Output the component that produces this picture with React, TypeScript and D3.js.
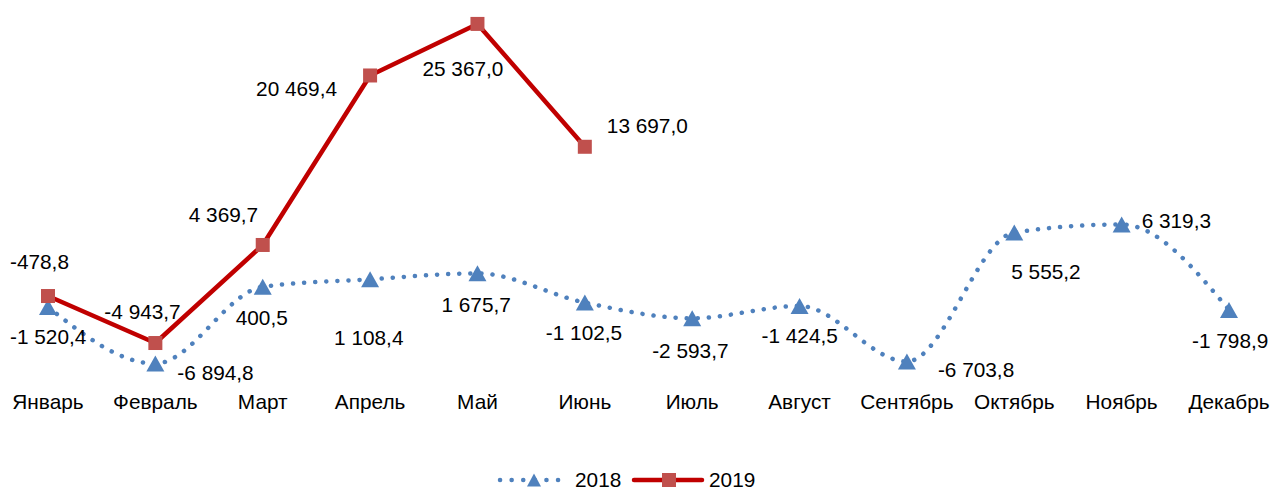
import React from 'react';
import * as d3 from 'd3';

const months = ['Январь', 'Февраль', 'Март', 'Апрель', 'Май', 'Июнь', 'Июль', 'Август', 'Сентябрь', 'Октябрь', 'Ноябрь', 'Декабрь'];
const values2018 = [-1520.4, -6894.8, 400.5, 1108.4, 1675.7, -1102.5, -2593.7, -1424.5, -6703.8, 5555.2, 6319.3, -1798.9];
const values2019 = [-478.8, -4943.7, 4369.7, 20469.4, 25367.0, 13697.0];

// label offsets from the point (text anchor = start, middle baseline)
const labelOffsets2018 = [[-38, 32], [22, 11], [-27, 33], [-36, 60], [-36, 33], [-39, 32], [-40, 34], [-38, 32], [31, 10], [-3, 41], [20, -2], [-37, 33]];
const labelOffsets2019 = [[-38, -33], [-51, -30], [-74, -28], [-114, 15], [-55, 47], [22, -19]];

const fmt = (v: number) => {
  const s = Math.abs(v).toFixed(1).split('.');
  const int = s[0].replace(/\B(?=(\d{3})+(?!\d))/g, ' ');
  return (v < 0 ? '-' : '') + int + ',' + s[1];
};

const App = () => {
  const Width = 1272;
  const Height = 490;
  const font = "'Liberation Sans', Arial, sans-serif";

  const xScale = d3.scalePoint<string>().domain(months).range([48, 1229]);
  const yScale = d3.scaleLinear().domain([-8000, 28000]).range([375.2, -3.8]);

  const line2018 = d3.line<number>()
    .x((d, i) => xScale(months[i]) as number)
    .y((d) => yScale(d))
    .curve(d3.curveMonotoneX);
  const line2019 = d3.line<number>()
    .x((d, i) => xScale(months[i]) as number)
    .y((d) => yScale(d));

  const tri = (cx: number, cy: number, w = 18, h = 16) =>
    `M${cx},${cy - h / 2}L${cx + w / 2},${cy + h / 2}L${cx - w / 2},${cy + h / 2}Z`;

  const blue = '#4F81BD';
  const red = '#C00000';
  const sq = '#C0504D';
  const fs = '20.8px';

  return (
    <svg width={Width} height={Height} style={{ position: 'absolute', left: 0, top: 0 }} fontFamily={font}>
      <rect width={Width} height={Height} fill="#fff" />
      <path d={line2018(values2018) || ''} fill="none" stroke={blue} strokeWidth={4.5} strokeLinecap="round" strokeDasharray="0.1 11" />
      {values2018.map((v, i) => (
        <path key={i} d={tri(xScale(months[i]) as number, yScale(v))} fill={blue} />
      ))}
      <path d={line2019(values2019) || ''} fill="none" stroke={red} strokeWidth={4.5} strokeLinejoin="round" />
      {values2019.map((v, i) => (
        <rect key={i} x={(xScale(months[i]) as number) - 7} y={yScale(v) - 7} width={14} height={14} fill={sq} />
      ))}

      {values2018.map((v, i) => (
        <text key={i} x={(xScale(months[i]) as number) + labelOffsets2018[i][0]} y={yScale(v) + labelOffsets2018[i][1]}
          dominantBaseline="middle" style={{ fontSize: fs }} fill="#000">{fmt(v)}</text>
      ))}
      {values2019.map((v, i) => (
        <text key={i} x={(xScale(months[i]) as number) + labelOffsets2019[i][0]} y={yScale(v) + labelOffsets2019[i][1]}
          dominantBaseline="middle" style={{ fontSize: fs }} fill="#000">{fmt(v)}</text>
      ))}

      {months.map((m) => (
        <text key={m} x={xScale(m)} y={403} textAnchor="middle" dominantBaseline="middle" style={{ fontSize: fs }}>{m}</text>
      ))}

      <g>
        <line x1={500} x2={560} y1={480} y2={480} stroke={blue} strokeWidth={4.5} strokeLinecap="round" strokeDasharray="0.1 11.5" />
        <path d={tri(534, 480, 14, 13)} fill={blue} />
        <text x={575} y={481} dominantBaseline="middle" style={{ fontSize: fs }}>2018</text>
        <line x1={634} x2={702} y1={480} y2={480} stroke={red} strokeWidth={4.5} strokeLinecap="round" />
        <rect x={662} y={473} width={14} height={14} fill={sq} />
        <text x={709} y={481} dominantBaseline="middle" style={{ fontSize: fs }}>2019</text>
      </g>
    </svg>
  );
};

export default App;
